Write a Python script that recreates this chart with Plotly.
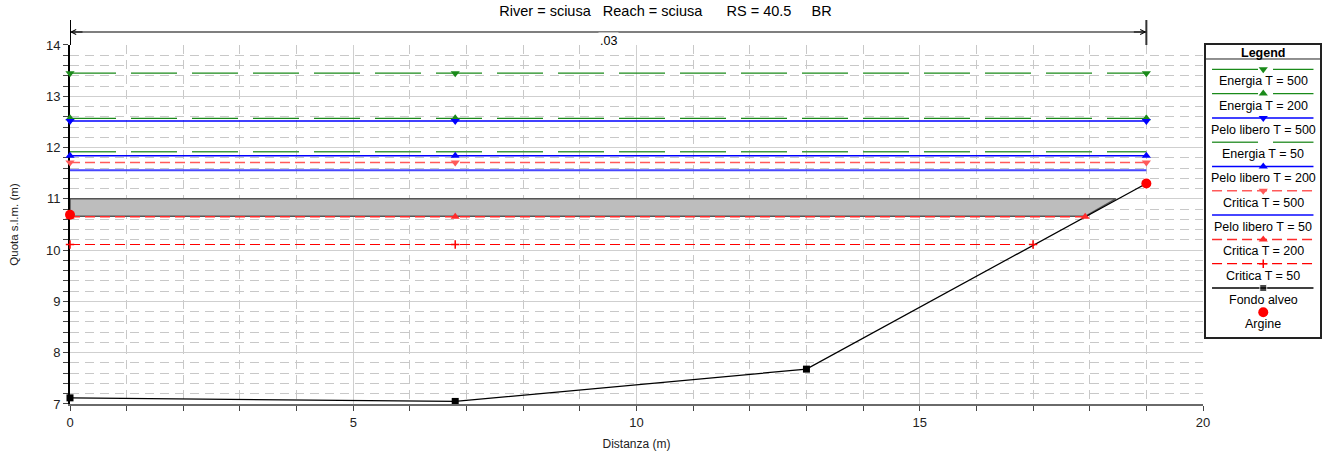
import plotly.graph_objects as go

# ---------------- data ----------------
series_names = ["Energia T = 500", "Energia T = 200", "Pelo libero T = 500", "Energia T = 50",
                "Pelo libero T = 200", "Critica T = 500", "Pelo libero T = 50",
                "Critica T = 200", "Critica T = 50"]
ws_levels = [13.45, 12.57, 12.52, 11.92, 11.84, 11.71, 11.56, 10.65, 10.11]
ws_x_start = [0.0, 0.0, 0.0, 0.0, 0.0, 0.0, 0.0, 0.0, 0.0]
ws_x_mid = [6.8, 6.8, 6.8, 6.8, 6.8, 6.8, 6.8, 6.8, 6.8]
ws_x_end = [19.0, 19.0, 19.0, 19.0, 19.0, 19.0, 19.0, 17.92, 17.0]

ground_x = [0.0, 6.8, 13.0, 19.0]
ground_y = [7.12, 7.05, 7.68, 11.30]
levee_x = [0.0, 19.0]
levee_y = [10.69, 11.30]
deck_x = [0.0, 18.46, 17.92, 0.0, 0.0]
deck_y = [11.0, 11.0, 10.66, 10.66, 11.0]

manning_n = ".03"
manning_x = [0.0, 19.0]
title_parts = ["River = sciusa", "Reach = sciusa", "RS = 40.5", "BR"]

# ---------------- styles ----------------
GREEN = "#1a8a1a"
styles = [
    dict(color=GREEN, dash="46px,15px", width=1.3, symbol="triangle-down"),
    dict(color=GREEN, dash="46px,15px", width=1.3, symbol="triangle-up"),
    dict(color="#0000ff", dash="solid", width=1.5, symbol="triangle-down"),
    dict(color="#3f9a3f", dash="46px,15px", width=1.5, symbol=None),
    dict(color="#0000ff", dash="solid", width=1.5, symbol="triangle-up"),
    dict(color="#ff5a5a", dash="10px,5px", width=1.5, symbol="triangle-down"),
    dict(color="#4646ff", dash="solid", width=2, symbol=None),
    dict(color="#ff2a2a", dash="10px,5px", width=1.5, symbol="triangle-up"),
    dict(color="#ff0000", dash="10px,5px", width=1.2, symbol="cross-thin"),
]


def marker_for(st):
    sym = st["symbol"]
    if sym == "cross-thin":
        return dict(symbol=sym, size=6, color=st["color"], line=dict(color=st["color"], width=1.5))
    return dict(symbol=sym, size=8, color=st["color"], line=dict(width=0))


FONT = "Liberation Sans, Arial, sans-serif"
fig = go.Figure()

# bridge deck
fig.add_trace(go.Scatter(x=deck_x, y=deck_y, mode="lines", fill="toself",
                         fillcolor="#bdbdbd", line=dict(color="#555555", width=1.5),
                         showlegend=False, hoverinfo="skip"))
# ground
fig.add_trace(go.Scatter(x=ground_x, y=ground_y, mode="lines+markers",
                         line=dict(color="black", width=1.3),
                         marker=dict(symbol="square", size=7, color="black"),
                         cliponaxis=False, showlegend=False, name="Fondo alveo"))
# water surface profiles
for i, name in enumerate(series_names):
    st = styles[i]
    xs = [ws_x_start[i], ws_x_mid[i], ws_x_end[i]]
    ys = [ws_levels[i]] * 3
    if st["symbol"]:
        mk = marker_for(st)
        mode = "lines+markers"
    else:
        mk = None
        mode = "lines"
    fig.add_trace(go.Scatter(x=xs, y=ys, mode=mode, name=name,
                             line=dict(color=st["color"], width=st["width"], dash=st["dash"]),
                             marker=mk, cliponaxis=False, showlegend=False))
# levee
fig.add_trace(go.Scatter(x=levee_x, y=levee_y, mode="markers", name="Argine",
                         marker=dict(symbol="circle", size=10, color="#ff0000"),
                         cliponaxis=False, showlegend=False))

# ---------------- custom legend (second axis) ----------------
LX0, LX1, LXC = 6, 107, 57
step = 24.3
legend_entries = series_names + ["Fondo alveo", "Argine"]
fig.add_trace(go.Scatter(x=[0, 113.5], y=[14, 14], mode="lines", xaxis="x2", yaxis="y2",
                         line=dict(color="#222", width=1), showlegend=False, hoverinfo="skip"))
annotations = [dict(x=56.75, y=8, xref="x2", yref="y2", text="<b>Legend</b>", showarrow=False,
                    font=dict(family=FONT, size=12.5, color="black"))]
for i, lab in enumerate(legend_entries):
    yl = 24.3 + step * i
    if i < len(series_names):
        st = styles[i]
        fig.add_trace(go.Scatter(x=[LX0, LX1], y=[yl, yl], mode="lines", xaxis="x2", yaxis="y2",
                                 line=dict(color=st["color"], width=st["width"], dash=st["dash"]),
                                 showlegend=False, hoverinfo="skip"))
        if st["symbol"]:
            fig.add_trace(go.Scatter(x=[LXC], y=[yl], mode="markers", xaxis="x2", yaxis="y2",
                                     marker=marker_for(st), showlegend=False, hoverinfo="skip"))
    elif lab == "Fondo alveo":
        fig.add_trace(go.Scatter(x=[LX0, LXC, LX1], y=[yl, yl, yl], mode="lines+markers",
                                 xaxis="x2", yaxis="y2", line=dict(color="black", width=1.3),
                                 marker=dict(symbol="square", size=[0, 7, 0], color="black"),
                                 showlegend=False, hoverinfo="skip"))
    else:
        fig.add_trace(go.Scatter(x=[LXC], y=[yl], mode="markers", xaxis="x2", yaxis="y2",
                                 marker=dict(symbol="circle", size=10, color="#ff0000"),
                                 showlegend=False, hoverinfo="skip"))
    annotations.append(dict(x=56.75, y=yl + 12, xref="x2", yref="y2", text=lab, showarrow=False,
                            font=dict(family=FONT, size=12.5, color="black")))

# ---------------- Manning n annotation above the plot ----------------
Y_TOP = 0.92288
Y_ARROW = 0.9563
Y_EXT = 0.9871
shapes = [
    dict(type="line", xref="x", yref="paper", x0=manning_x[0], x1=manning_x[1],
         y0=Y_ARROW, y1=Y_ARROW, line=dict(color="black", width=1.2)),
    dict(type="line", xref="x", yref="paper", x0=manning_x[1], x1=manning_x[1],
         y0=Y_TOP, y1=Y_EXT, line=dict(color="#333333", width=2)),
    dict(type="line", xref="x", yref="paper", x0=0, x1=0,
         y0=Y_TOP, y1=Y_EXT, line=dict(color="black", width=2)),
]
annotations += [
    dict(x=manning_x[0], y=Y_ARROW, xref="x", yref="paper", ax=14, ay=0, axref="pixel", ayref="pixel",
         text="", showarrow=True, arrowhead=5, arrowsize=1, arrowwidth=1, arrowcolor="black"),
    dict(x=manning_x[1], y=Y_ARROW, xref="x", yref="paper", ax=-14, ay=0, axref="pixel", ayref="pixel",
         text="", showarrow=True, arrowhead=5, arrowsize=1, arrowwidth=1, arrowcolor="black"),
    dict(x=(manning_x[0] + manning_x[1]) / 2, y=Y_ARROW, xref="x", yref="paper", text=manning_n,
         showarrow=False, bgcolor="white", borderpad=1,
         font=dict(family=FONT, size=12.5, color="black")),
]

NB = "\u00a0"
title_text = (NB * 3).join(title_parts[:2]) + NB * 6 + title_parts[2] + NB * 5 + title_parts[3]

fig.update_layout(
    width=1331, height=458,
    margin=dict(l=70, r=11, t=15, b=54, autoexpand=False),
    paper_bgcolor="white", plot_bgcolor="white",
    font=dict(family=FONT, size=13, color="#222"),
    title=dict(text=title_text, x=0.5, xref="container", xanchor="center",
               y=1 - 11 / 458, yref="container", yanchor="middle",
               font=dict(family=FONT, size=14.5, color="black"), automargin=False),
    showlegend=False,
    xaxis=dict(domain=[0, 0.9064], range=[0, 20], tickvals=[0, 5, 10, 15, 20], automargin=False,
               showline=True, linecolor="#6a6a6a", linewidth=2,
               ticks="outside", ticklen=5, tickcolor="#444", tickwidth=1,
               showgrid=True, gridcolor="#cfcfcf", gridwidth=1.3, zeroline=False,
               minor=dict(dtick=1, ticks="outside", ticklen=5, tickcolor="#444",
                          showgrid=True, gridcolor="#c8c8c8", griddash="9px,6px", gridwidth=1),
               tickfont=dict(family=FONT, size=13, color="#222"),
               title=dict(text="Distanza (m)", standoff=11,
                          font=dict(family=FONT, size=12, color="#222")),
               anchor="y"),
    yaxis=dict(domain=[0, Y_TOP], range=[7, 14], dtick=1, tick0=7, automargin=False,
               showline=True, linecolor="black", linewidth=2, layer="below traces",
               ticks="outside", ticklen=5, tickcolor="#444", tickwidth=1,
               showgrid=True, gridcolor="#cfcfcf", gridwidth=1.3, zeroline=False,
               minor=dict(dtick=0.2, ticks="outside", ticklen=5, tickcolor="#444",
                          showgrid=True, gridcolor="#c8c8c8", griddash="9px,6px", gridwidth=1),
               tickfont=dict(family=FONT, size=13, color="#222"),
               title=dict(text="Quota s.l.m. (m)", standoff=25,
                          font=dict(family=FONT, size=11.5, color="#222")),
               anchor="x"),
    xaxis2=dict(domain=[0.9088, 1.0], range=[0, 113.5], anchor="y2", showline=True, mirror=True,
                linecolor="#222", linewidth=1.5, showgrid=False, zeroline=False, automargin=False,
                showticklabels=False, ticks="", fixedrange=True),
    yaxis2=dict(domain=[0.17224, Y_TOP], range=[292, 0], anchor="x2", showline=True, mirror=True,
                linecolor="#222", linewidth=1.5, showgrid=False, zeroline=False, automargin=False,
                showticklabels=False, ticks="", fixedrange=True),
    shapes=shapes,
    annotations=annotations,
)

fig.write_html("out.html", config={"displayModeBar": False},
               post_script="document.body.style.margin='0';document.body.style.padding='0';")
